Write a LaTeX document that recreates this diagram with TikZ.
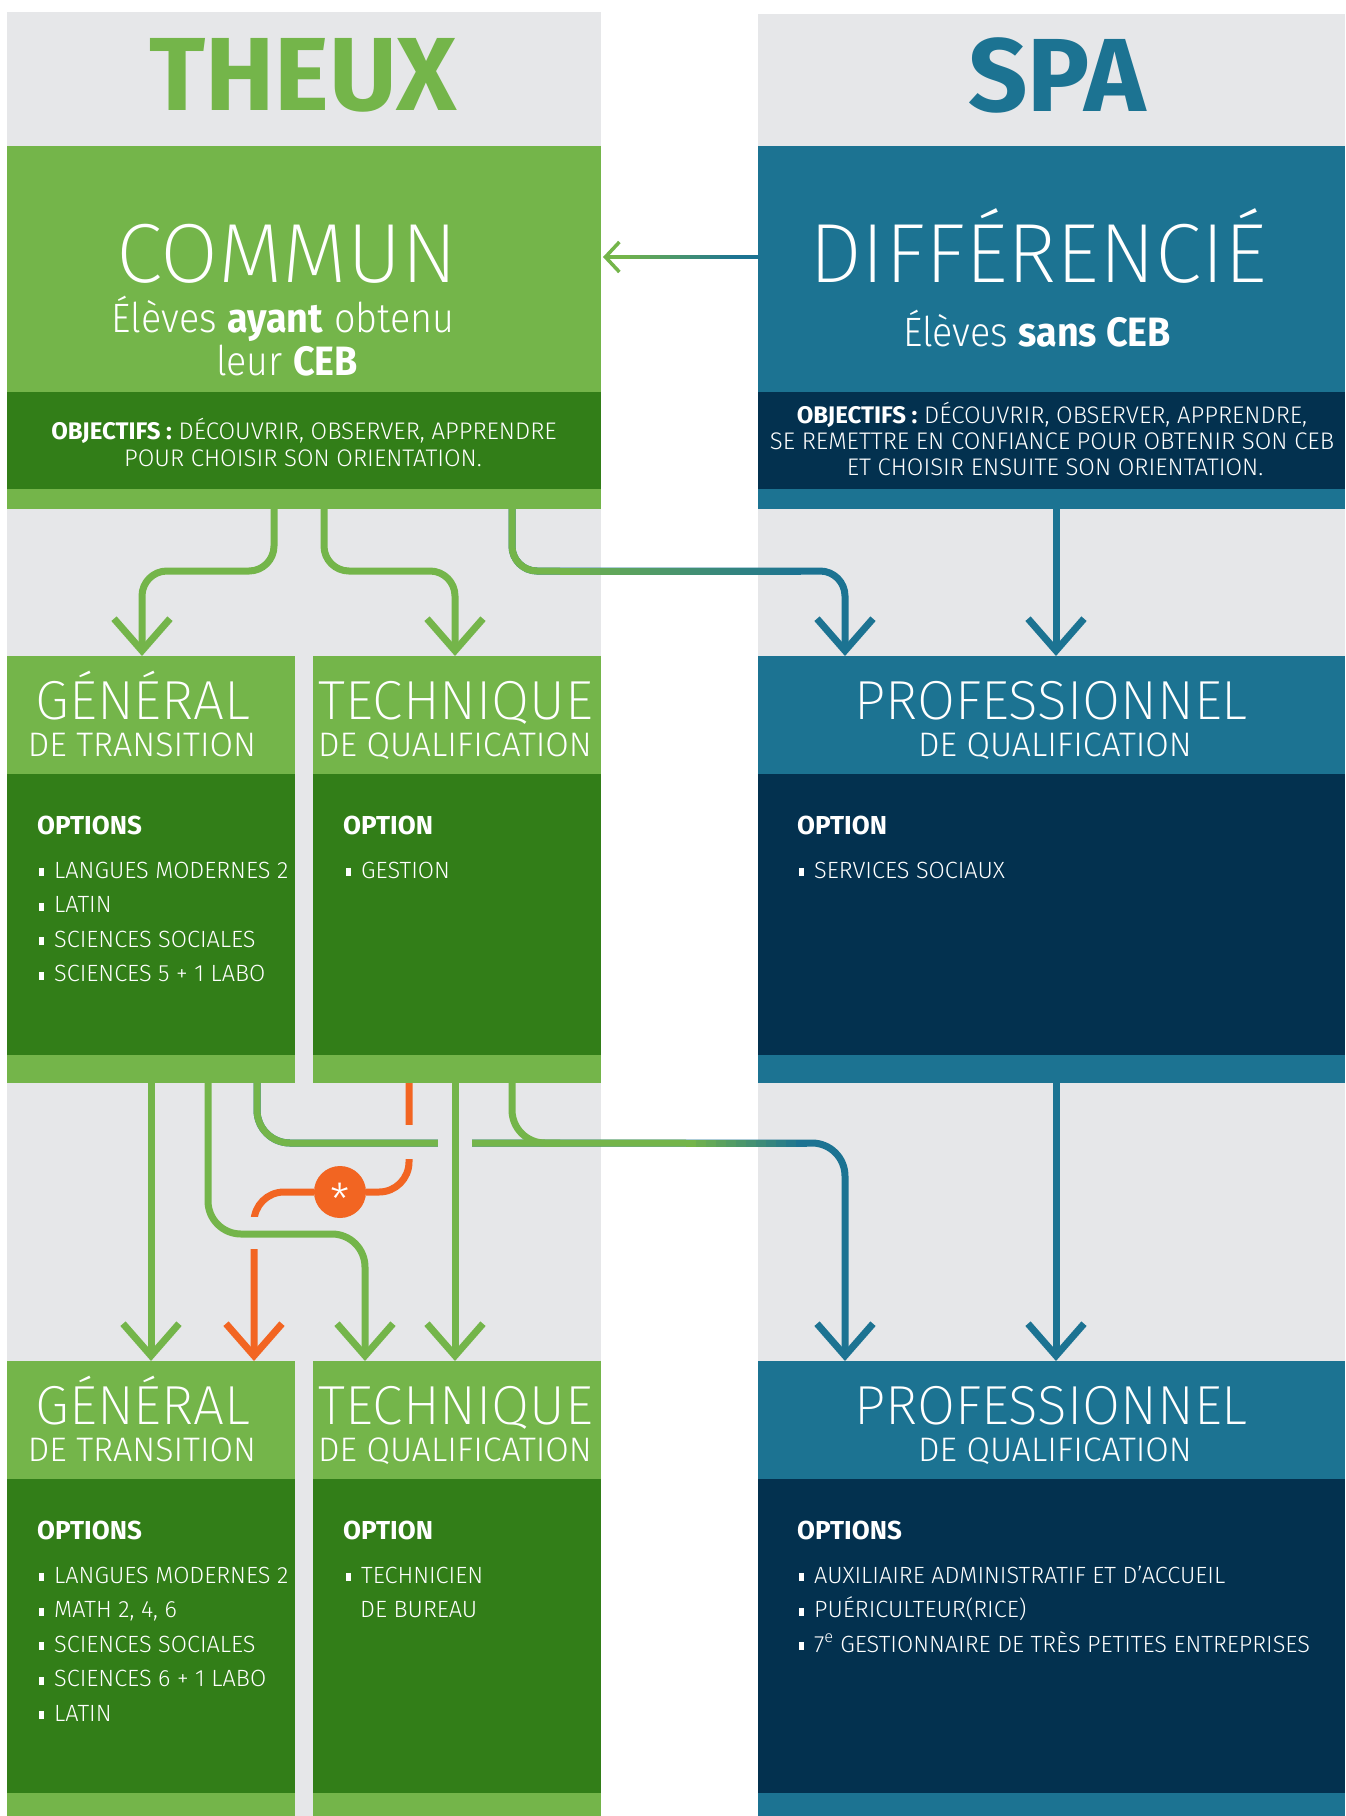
\documentclass[tikz,border=0pt]{standalone}
\usepackage{fontspec}
\IfFontExistsTF{Fira Sans Light}
	{\setmainfont{Fira Sans}[UprightFont={* Light}, BoldFont={* Bold}]}
	{\setmainfont{Fira Sans}}
\IfFontExistsTF{Fira Sans ExtraLight}
	{\newfontfamily\thinfont{Fira Sans}[UprightFont={* ExtraLight}, BoldFont={* Bold}]}
	{\newcommand{\thinfont}{}}
\usepackage{tikz}
\usetikzlibrary{arrows.meta}

\definecolor{lgreen}{HTML}{74B54A}
\definecolor{dgreen}{HTML}{327E18}
\definecolor{steel}{HTML}{1C7392}
\definecolor{navy}{HTML}{03314F}
\definecolor{bggray}{HTML}{E6E7E9}
\definecolor{orng}{HTML}{F26522}

\newcommand{\fsz}[1]{\fontsize{#1}{#1}\selectfont}
\newcommand{\itm}{\rule[2pt]{5pt}{8pt}\hspace{10pt}}

\begin{document}
\begin{tikzpicture}[x=1pt, y=-1pt]
			\tikzstyle{Panel}	= [anchor=north west, inner sep=0pt, outer sep=0pt]
			\tikzstyle{LG}		= [fill=lgreen]
			\tikzstyle{DG}		= [fill=dgreen]
			\tikzstyle{TL}		= [fill=steel]
			\tikzstyle{NV}		= [fill=navy]
			\tikzstyle{Narrow}	= [minimum width=288pt]
			\tikzstyle{Wide}	= [minimum width=587pt]
			\tikzstyle{Site}	= [anchor=base, inner sep=0pt, font=\fsz{104}\bfseries]
			\tikzstyle{Title}	= [anchor=base, inner sep=0pt, text depth=0pt, text=white, font=\thinfont\fsz{84}]
			\tikzstyle{Sub}		= [anchor=base, inner sep=0pt, text depth=0pt, text=white, font=\addfontfeature{FakeStretch=0.92}\fsz{41}]
			\tikzstyle{Goal}	= [anchor=base, inner sep=0pt, text depth=0pt, text=white, font=\fsz{24}]
			\tikzstyle{Track}	= [anchor=base, inner sep=0pt, text depth=0pt, text=white, font=\thinfont\fsz{55}]
			\tikzstyle{Level}	= [anchor=base, inner sep=0pt, text=white, font=\fsz{34}]
			\tikzstyle{Opt}		= [anchor=base west, inner sep=0pt, text=white, font=\fsz{26}\bfseries]
			\tikzstyle{Item}	= [anchor=base west, inner sep=0pt, text=white, font=\fsz{23.5}]
			\tikzstyle{Flow}	= [line width=7pt]
			\tikzstyle{Arrow}	= [-{Straight Barb[sharp, length=32pt, width=56pt]}]
			\tikzstyle{GR}		= [lgreen]
			\tikzstyle{TE}		= [steel]
			\tikzstyle{OR}		= [orng]
			\tikzstyle{Gap}		= [fill=bggray]

			\useasboundingbox (0,0) rectangle (1345,1816);
			\fill [white] (0,0) rectangle (1345,1816);
			\fill [bggray] (7,12) rectangle (601,1816);
			\fill [bggray] (758,14) rectangle (1345,1816);

			\node (theux) at (303,110) [Site][text=lgreen] {THEUX};
			\node (spa) at (1057,111) [Site][text=steel] {SPA};

			\node (commun) at (7,146) [Panel][LG][minimum width=594pt, minimum height=246pt] {};
			\node (communObj) at (7,392) [Panel][DG][minimum width=594pt, minimum height=97pt] {};
			\fill [lgreen] (7,489) rectangle (601,509);
			\node (diff) at (758,146) [Panel][TL][Wide][minimum height=246pt] {};
			\node (diffObj) at (758,392) [Panel][NV][Wide][minimum height=97pt] {};
			\fill [steel] (758,489) rectangle (1345,509);

			\node (communT) at (287,282) [Title] {COMMUN};
			\node (communS1) at (283,332) [Sub] {Élèves \textbf{ayant} obtenu};
			\node (communS2) at (287,375) [Sub] {leur \textbf{CEB}};
			\node (communG1) at (304,439) [Goal] {\textbf{OBJECTIFS :} DÉCOUVRIR, OBSERVER, APPRENDRE};
			\node (communG2) at (303,466) [Goal] {POUR CHOISIR SON ORIENTATION.};
			\node (diffT) at (1038,282) [Title] {DIFFÉRENCIÉ};
			\node (diffS) at (1037,346) [Sub] {Élèves \textbf{sans CEB}};
			\node (diffG1) at (1052,423) [Goal] {\textbf{OBJECTIFS :} DÉCOUVRIR, OBSERVER, APPRENDRE,};
			\node (diffG2) at (1052,449) [Goal] {SE REMETTRE EN CONFIANCE POUR OBTENIR SON CEB};
			\node (diffG3) at (1055,475) [Goal] {ET CHOISIR ENSUITE SON ORIENTATION.};

			\node (gen1) at (7,656) [Panel][LG][Narrow][minimum height=118pt] {};
			\node (gen1Body) at (7,774) [Panel][DG][Narrow][minimum height=281pt] {};
			\fill [lgreen] (7,1055) rectangle (295,1083);
			\node (tech1) at (313,656) [Panel][LG][Narrow][minimum height=118pt] {};
			\node (tech1Body) at (313,774) [Panel][DG][Narrow][minimum height=281pt] {};
			\fill [lgreen] (313,1055) rectangle (601,1083);
			\node (pro1) at (758,656) [Panel][TL][Wide][minimum height=118pt] {};
			\node (pro1Body) at (758,774) [Panel][NV][Wide][minimum height=281pt] {};
			\fill [steel] (758,1055) rectangle (1345,1083);

			\node (gen1T) at (143,719) [Track] {GÉNÉRAL};
			\node (gen1L) at (142,756) [Level] {DE TRANSITION};
			\node (tech1T) at (456,719) [Track] {TECHNIQUE};
			\node (tech1L) at (455,756) [Level] {DE QUALIFICATION};
			\node (pro1T) at (1051,719) [Track] {PROFESSIONNEL};
			\node (pro1L) at (1055,756) [Level] {DE QUALIFICATION};
			\node (gen1O) at (37,834) [Opt] {OPTIONS};
			\node (tech1O) at (343,834) [Opt] {OPTION};
			\node (pro1O) at (797,834) [Opt] {OPTION};
			\foreach \t [count=\i from 0] in {LANGUES MODERNES 2, LATIN, SCIENCES SOCIALES, SCIENCES 5 + 1 LABO}
				\node (gen1I\i) at (39,878+34.5*\i) [Item] {\itm\t};
			\node (tech1I0) at (346,878) [Item] {\itm GESTION};
			\node (pro1I0) at (799,878) [Item] {\itm SERVICES SOCIAUX};

			\node (gen2) at (7,1361) [Panel][LG][Narrow][minimum height=118pt] {};
			\node (gen2Body) at (7,1479) [Panel][DG][Narrow][minimum height=314pt] {};
			\fill [lgreen] (7,1793) rectangle (295,1816);
			\node (tech2) at (313,1361) [Panel][LG][Narrow][minimum height=118pt] {};
			\node (tech2Body) at (313,1479) [Panel][DG][Narrow][minimum height=314pt] {};
			\fill [lgreen] (313,1793) rectangle (601,1816);
			\node (pro2) at (758,1361) [Panel][TL][Wide][minimum height=118pt] {};
			\node (pro2Body) at (758,1479) [Panel][NV][Wide][minimum height=314pt] {};
			\fill [steel] (758,1793) rectangle (1345,1816);

			\node (gen2T) at (143,1424) [Track] {GÉNÉRAL};
			\node (gen2L) at (142,1461) [Level] {DE TRANSITION};
			\node (tech2T) at (456,1424) [Track] {TECHNIQUE};
			\node (tech2L) at (455,1461) [Level] {DE QUALIFICATION};
			\node (pro2T) at (1051,1424) [Track] {PROFESSIONNEL};
			\node (pro2L) at (1055,1461) [Level] {DE QUALIFICATION};
			\node (gen2O) at (37,1539) [Opt] {OPTIONS};
			\node (tech2O) at (343,1539) [Opt] {OPTION};
			\node (pro2O) at (797,1539) [Opt] {OPTIONS};
			\foreach \t [count=\i from 0] in {LANGUES MODERNES 2, {MATH 2, 4, 6}, SCIENCES SOCIALES, SCIENCES 6 + 1 LABO, LATIN}
				\node (gen2I\i) at (39,1583+34.5*\i) [Item] {\itm\t};
			\node (tech2I0) at (346,1583) [Item] {\itm TECHNICIEN};
			\node (tech2I1) at (360,1617.5) [Item] {DE BUREAU};
			\foreach \t [count=\i from 0] in {AUXILIAIRE ADMINISTRATIF ET D’ACCUEIL, PUÉRICULTEUR(RICE), 7\textsuperscript{e} GESTIONNAIRE DE TRÈS PETITES ENTREPRISES}
				\node (pro2I\i) at (799,1583+34.5*\i) [Item] {\itm\t};

			\coordinate (dl) at (758,257);
			\coordinate (cr) at (603,257);
			\coordinate (lane1) at (0,571);
			\coordinate (lane2) at (0,1143);
			\coordinate (lane4) at (0,1234);
			\coordinate (co1) at (274,509);
			\coordinate (co2) at (324,509);
			\coordinate (co3) at (512,509);
			\coordinate (do1) at (1056,509);
			\coordinate (gi1) at (142,656);
			\coordinate (ti1) at (455,656);
			\coordinate (pi1) at (845,656);
			\coordinate (pi2) at (1056,656);
			\coordinate (go1) at (151,1083);
			\coordinate (go2) at (208,1083);
			\coordinate (go3) at (257,1083);
			\coordinate (to1) at (409,1083);
			\coordinate (to2) at (455,1083);
			\coordinate (to3) at (512,1083);
			\coordinate (po1) at (1056,1083);
			\coordinate (gj1) at (151,1361);
			\coordinate (gj2) at (254,1361);
			\coordinate (tj1) at (365,1361);
			\coordinate (tj2) at (455,1361);
			\coordinate (pj1) at (845,1361);
			\coordinate (pj2) at (1056,1361);

			\draw [line width=3.5pt, -{Straight Barb[sharp, length=14pt, width=30pt]}] (dl) -- (cr) [GR];
			\draw [line width=3.5pt] (dl) -- (740,257) [TE];
			\foreach \k in {0,...,11} {
				\pgfmathtruncatemacro{\mix}{100-\k*100/11}
				\draw [line width=3.5pt] (620+10*\k,257) -- ++(11,0) [lgreen!\mix!steel];
			}

			\draw [Flow][Arrow][rounded corners=25pt] (co1) |- (lane1 -| gi1) -- (gi1) [GR];
			\draw [Flow][Arrow][rounded corners=25pt] (co2) |- (lane1 -| ti1) -- (ti1) [GR];
			\draw [Flow][Arrow][rounded corners=25pt] (co3) |- (lane1 -| pi1) -- (pi1) [TE];
			\draw [Flow][rounded corners=25pt] (co3) |- ([xshift=560pt]lane1) [GR];
			\foreach \k in {0,...,23} {
				\pgfmathtruncatemacro{\mix}{100-\k*100/23}
				\draw [Flow] ([xshift=560pt+10pt*\k]lane1) -- ++(11,0) [lgreen!\mix!steel];
			}
			\draw [Flow][Arrow] (do1) -- (pi2) [TE];

			\node (redir) at (340,1192) [circle, fill=orng, minimum size=52pt, inner sep=0pt] {};
			\node (redirMark) at (340,1215) [anchor=base, inner sep=0pt, text=white, font=\fsz{44}] {*};
			\draw [Flow][Arrow][rounded corners=30pt] (to1) |- (redir) -| (gj2) [OR];
			\fill [Gap] (402,1125) rectangle (416,1159);
			\fill [Gap] (247,1217) rectangle (261,1249);

			\draw [Flow][Arrow] (go1) -- (gj1) [GR];
			\draw [Flow][Arrow][rounded corners=33pt] (go2) |- (lane4 -| tj1) -- (tj1) [GR];
			\draw [Flow][Arrow][rounded corners=33pt] (go3) |- (lane2 -| pj1) -- (pj1) [TE];
			\draw [Flow][rounded corners=33pt] (go3) |- ([xshift=686pt]lane2) [GR];
			\foreach \k in {0,...,11} {
				\pgfmathtruncatemacro{\mix}{100-\k*100/11}
				\draw [Flow] ([xshift=686pt+10pt*\k]lane2) -- ++(11,0) [lgreen!\mix!steel];
			}
			\draw [Flow][rounded corners=33pt] (to3) |- ([xshift=560pt]lane2) [GR];
			\fill [Gap] (438,1136) rectangle (472,1150);
			\draw [Flow][Arrow] (to2) -- (tj2) [GR];
			\draw [Flow][Arrow] (po1) -- (pj2) [TE];
		\end{tikzpicture}
\end{document}
